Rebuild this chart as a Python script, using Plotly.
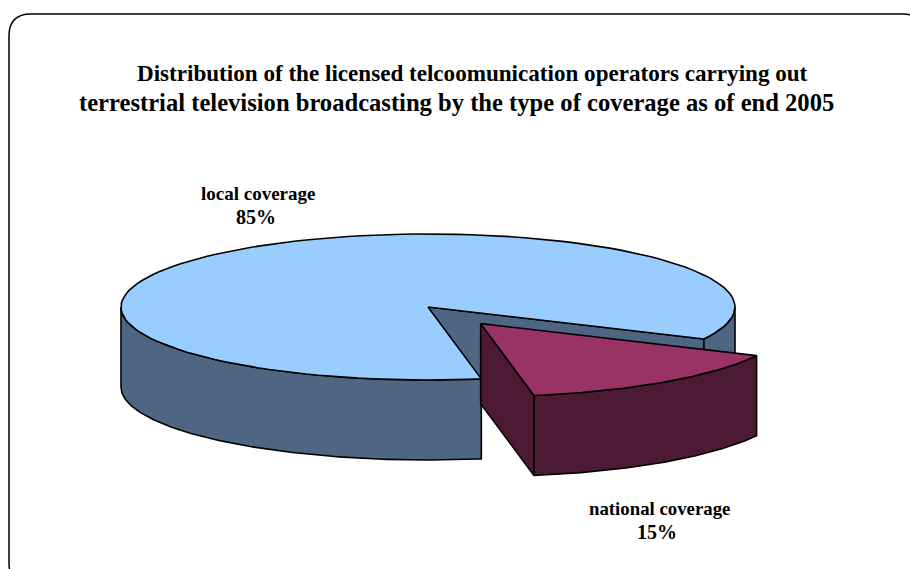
import numpy as np
import plotly.graph_objects as go

# ---- data ----
categories = ["local coverage", "national coverage"]
shares = [85, 15]
label_text = ["85%", "15%"]
title_lines = [
    "Distribution of the licensed telcoomunication operators carrying out",
    "terrestrial television broadcasting by the type of coverage as of end 2005",
]

# ---- projection of the tilted pie ----
CX, CY, RX, RY, DEPTH = 428, 307, 307, 73, 80
START_DEG = 26
EXPLODE = 0.285
TOP = ["#99CCFF", "#993366"]
SIDE = ["#4F6682", "#4D1A33"]
LINE = dict(color="#000000", width=1.6)
FONT = "Liberation Serif"


def rim(t1, t2, ox=0.0, oy=0.0, n=120):
    t = np.radians(np.linspace(t1, t2, n))
    return CX + ox + RX * np.cos(t), CY + oy + RY * np.sin(t)


fig = go.Figure()


def poly(x, y, color, name):
    fig.add_trace(go.Scatter(x=list(x), y=list(y), mode="lines", fill="toself",
                             fillcolor=color, line=LINE, name=name,
                             hoverinfo="name", showlegend=False))


def wall(t1, t2, ox, oy, color, name):
    x, y = rim(t1, t2, ox, oy)
    poly(np.r_[x, x[::-1], x[0]], np.r_[y, y[::-1] + DEPTH, y[0]], color, name)


def sector(t1, t2, ox, oy, color, name):
    x, y = rim(t1, t2, ox, oy)
    poly(np.r_[CX + ox, x, CX + ox], np.r_[CY + oy, y, CY + oy], color, name)


sweep_nat = 360 * shares[1] / sum(shares)
n1, n2 = START_DEG, START_DEG + sweep_nat

# main slice: inner cut wall, outer wall, top face
x1, y1 = rim(n1, n1, n=1)
poly([CX, x1[0], x1[0], CX, CX],
     [CY, y1[0], y1[0] + DEPTH, CY + DEPTH, CY], SIDE[0], categories[0])
wall(0, n1, 0, 0, SIDE[0], categories[0])
wall(n2, 180, 0, 0, SIDE[0], categories[0])
sector(n2, n1 + 360, 0, 0, TOP[0], categories[0])

# exploded slice: left cut wall, outer wall, top face
mid = np.radians((n1 + n2) / 2)
ox, oy = EXPLODE * RX * np.cos(mid), EXPLODE * RY * np.sin(mid)
x2, y2 = rim(n2, n2, ox, oy, n=1)
ax, ay = CX + ox, CY + oy
poly([ax, x2[0], x2[0], ax, ax],
     [ay, y2[0], y2[0] + DEPTH, ay + DEPTH, ay], SIDE[1], categories[1])
wall(n1, n2, ox, oy, SIDE[1], categories[1])
sector(n1, n2, ox, oy, TOP[1], categories[1])

# ---- text ----
notes = [
    (472, 73, title_lines[0], 23.1),
    (456, 102, title_lines[1], 24.6),
    (257.5, 193, categories[0], 19),
    (255.5, 217, label_text[0], 20),
    (659, 508, categories[1], 18.8),
    (657, 532, label_text[1], 20),
]
for x, y, s, size in notes:
    fig.add_annotation(x=x, y=y, text=f"<b>{s}</b>", showarrow=False,
                       xanchor="center", yanchor="middle",
                       font=dict(family=FONT, size=size, color="#000000"))

# rounded frame, running off the right and bottom of the picture
L, T, R, B, C = 9, 14, 925, 585, 22
fig.add_shape(type="path", xref="x", yref="y",
              path=f"M {L} {T+C} Q {L} {T} {L+C} {T} L {R-C} {T} Q {R} {T} {R} {T+C} "
                   f"L {R} {B-C} Q {R} {B} {R-C} {B} L {L+C} {B} Q {L} {B} {L} {B-C} Z",
              line=dict(color="#000000", width=1.5), layer="below")

fig.update_xaxes(range=[0, 910], visible=False, fixedrange=True)
fig.update_yaxes(range=[569, 0], visible=False, fixedrange=True)
fig.update_layout(width=910, height=569, margin=dict(l=0, r=0, t=0, b=0),
                  paper_bgcolor="white", plot_bgcolor="white", showlegend=False)

fig.write_html("out.html", config={"displayModeBar": False},
               post_script="document.body.style.margin='0';document.body.style.overflow='hidden';")
